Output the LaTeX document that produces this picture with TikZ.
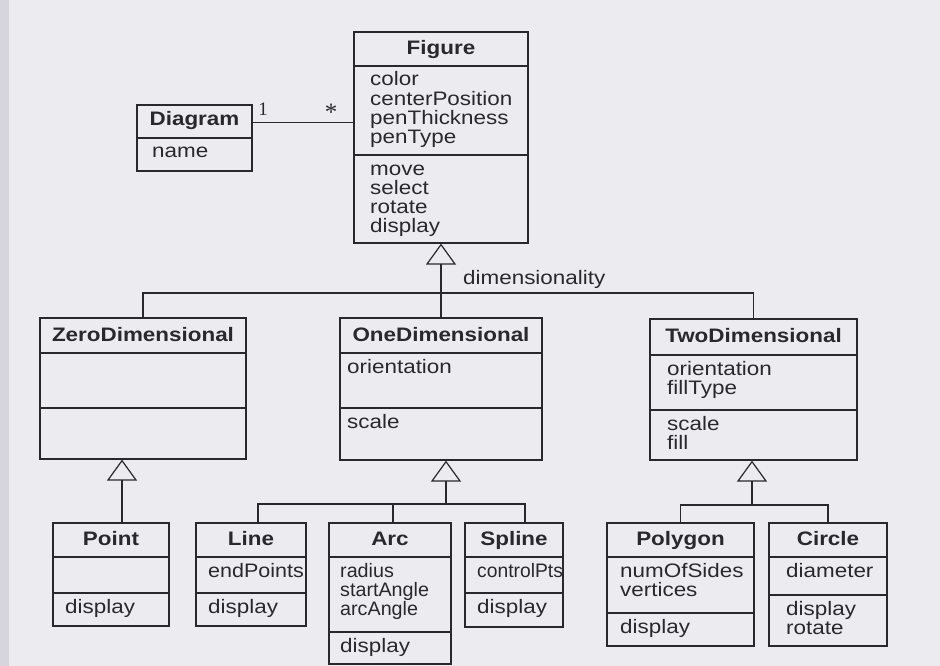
\documentclass[tikz,border=0pt]{standalone}
\usepackage{fontspec}
\setmainfont{Liberation Sans}[FakeStretch=1.15]
\newfontfamily\multfont{Liberation Serif}
\usetikzlibrary{arrows.meta,fit}
\definecolor{paper}{RGB}{236,235,240}
\definecolor{edge}{RGB}{214,213,219}
\definecolor{ink}{RGB}{40,40,45}
\newcommand\fsz{\fontsize{19.5}{19.3}\selectfont}
\tikzset{
  cls/.style={draw=ink, line width=1.2pt, inner sep=0pt, rectangle, fit={#1}},
  sepl/.style={draw=ink, line width=1.2pt},
  ttl/.style={anchor=base, font=\bfseries\fsz, text=ink, inner sep=0pt},
  attr/.style={anchor=base west, align=left, font=\fsz, text=ink, inner sep=0pt},
  squeeze/.style={xscale=#1, transform shape},
  mult/.style={font=\multfont\fontsize{19}{20}\selectfont, text=ink, inner sep=0pt},
  conn/.style={draw=ink, line width=1.2pt},
  gen/.style={conn, -{Triangle[open, length=21pt, width=30pt]}},
}
\newcommand\sepat[2]{\draw[sepl] (#1.west |- 0,#2) -- (#1.east |- 0,#2);}
\begin{document}
\begin{tikzpicture}[x=1pt,y=-1pt]
\fill[paper] (0,0) rectangle (940,666);
\fill[edge] (0,0) rectangle (9,666);
\useasboundingbox (0,0) rectangle (940,666);

% ---- class boxes ----
\node[cls={(137,105) (252,171)}] (dia) {};
\node[cls={(354,32) (528,243)}] (fig) {};
\node[cls={(40,318) (246,459)}] (zero) {};
\node[cls={(340,318) (542,460)}] (one) {};
\node[cls={(650,319) (857,460)}] (two) {};
\node[cls={(53,523) (169,626)}] (point) {};
\node[cls={(196,523) (306,626)}] (line) {};
\node[cls={(329,523) (451,664)}] (arc) {};
\node[cls={(465,523) (563,627)}] (spline) {};
\node[cls={(607,523) (754,646)}] (poly) {};
\node[cls={(769,523) (887,646)}] (circ) {};

% ---- compartments ----
\sepat{dia}{138}
\sepat{fig}{66}\sepat{fig}{155}
\sepat{zero}{353}\sepat{zero}{408}
\sepat{one}{353}\sepat{one}{408}
\sepat{two}{355}\sepat{two}{410}
\sepat{point}{557}\sepat{point}{593}
\sepat{line}{557}\sepat{line}{593}
\sepat{arc}{557}\sepat{arc}{632}
\sepat{spline}{557}\sepat{spline}{593}
\sepat{poly}{557}\sepat{poly}{613}
\sepat{circ}{557}\sepat{circ}{595}

% ---- texts (multi-line nodes are placed by the baseline of their last line) ----
\node[ttl] (diaT) at (194.5,126) {Diagram};
\node[attr] (diaA) at (152,158) {name};

\node[ttl] (figT) at (441,55) {Figure};
\node[attr] (figA) at (370,143.9) {color\\centerPosition\\penThickness\\penType};
\node[attr] (figO) at (370,232.9) {move\\select\\rotate\\display};

\node[ttl] (zeroT) at (143,341) {ZeroDimensional};

\node[ttl] (oneT) at (441,341) {OneDimensional};
\node[attr] (oneA) at (347,373) {orientation};
\node[attr] (oneO) at (347,428) {scale};

\node[ttl] (twoT) at (753.5,342) {TwoDimensional};
\node[attr] (twoA) at (667,394.3) {orientation\\fillType};
\node[attr] (twoO) at (667,449.3) {scale\\fill};

\node[ttl] (pointT) at (111,545.5) {Point};
\node[attr] (pointO) at (65,613) {display};

\node[ttl] (lineT) at (251,545.5) {Line};
\node[attr, squeeze=0.96] (lineA) at (208,577) {endPoints};
\node[attr] (lineO) at (208,613) {display};

\node[ttl] (arcT) at (390,545.5) {Arc};
\node[attr, squeeze=0.88] (arcA) at (340,615.6) {radius\\startAngle\\arcAngle};
\node[attr] (arcO) at (340,652) {display};

\node[ttl] (splineT) at (514,545.5) {Spline};
\node[attr, squeeze=0.86] (splineA) at (477,577) {controlPts};
\node[attr] (splineO) at (477,613) {display};

\node[ttl] (polyT) at (680.5,545.5) {Polygon};
\node[attr] (polyA) at (620,596.3) {numOfSides\\vertices};
\node[attr] (polyO) at (620,633) {display};

\node[ttl] (circT) at (828,545.5) {Circle};
\node[attr] (circA) at (786,577) {diameter};
\node[attr] (circO) at (786,634.3) {display\\rotate};

% ---- association ----
\draw[conn] ([yshift=-18pt]dia.north east) -- ([yshift=-18pt]dia.north east -| fig.west);
\node[mult] (m1) at (263,109) {1};
\node[mult, font=\multfont\fontsize{25}{25}\selectfont] (m2) at (331,112) {*};

% ---- generalization Figure ----
\coordinate (j1) at (441,293);
\draw[conn] (zero.north) |- (j1) -| (two.north);
\draw[gen] (one.north) -- (fig.south);
\node[attr] (dimL) at (463,284) {dimensionality};

% ---- ZeroDimensional -> Point ----
\draw[gen] (point.north -| 122,0) -- (zero.south -| 122,0);

% ---- OneDimensional -> Line, Arc, Spline ----
\coordinate (j2) at (446,504);
\coordinate (j2a) at (393,504);
\draw[conn] (line.north -| 258,0) |- (j2) -| (spline.north -| 525,0);
\draw[conn] (arc.north -| 393,0) -- (j2a);
\draw[gen] (j2) -- (j2 |- one.south);

% ---- TwoDimensional -> Polygon, Circle ----
\coordinate (j3) at (752,505);
\draw[conn] (poly.north) |- (j3) -| (circ.north);
\draw[gen] (j3) -- (j3 |- two.south);
\end{tikzpicture}
\end{document}
